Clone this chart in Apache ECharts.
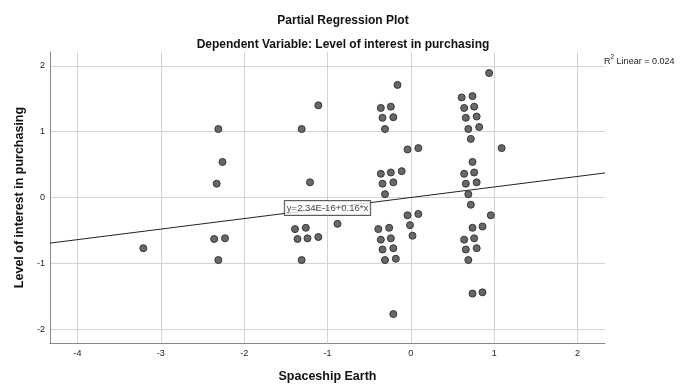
<!DOCTYPE html>
<html>
<head>
<meta charset="utf-8">
<script src="https://cdn.jsdelivr.net/npm/echarts@6/dist/echarts.min.js"></script>
<style>
html,body{margin:0;padding:0;background:#fff;}
#chart{width:686px;height:388px;}
</style>
</head>
<body>
<div id="chart"></div>
<script>
const titleText = 'Partial Regression Plot';
const subtitleText = 'Dependent Variable: Level of interest in purchasing';
const xAxisName = 'Spaceship Earth';
const yAxisName = 'Level of interest in purchasing';
const xValues = [
  -3.21, -2.31, -2.26, -2.33, -2.36, -2.23, -2.31,
  -1.11, -1.31, -1.21, -0.88, -1.39, -1.26, -1.36, -1.24, -1.11, -1.31,
  -0.16, -0.36, -0.24, -0.34, -0.21, -0.31, -0.04, 0.09, -0.36, -0.24, -0.11,
  -0.34, -0.21, -0.31, -0.04, 0.09, -0.01, 0.02, -0.39, -0.26, -0.36, -0.24,
  -0.34, -0.21, -0.31, -0.18, -0.21,
  0.94, 0.61, 0.74, 0.64, 0.76, 0.66, 0.79, 0.69, 0.82, 0.72, 1.09, 0.74,
  0.64, 0.76, 0.66, 0.79, 0.69, 0.72, 0.96, 0.74, 0.86, 0.64, 0.76, 0.66,
  0.79, 0.69, 0.74, 0.86
];
const yValues = [
  -0.77, 1.04, 0.54, 0.21, -0.63, -0.62, -0.95,
  1.40, 1.04, 0.23, -0.40, -0.48, -0.46, -0.63, -0.62, -0.60, -0.95,
  1.71, 1.36, 1.38, 1.21, 1.22, 1.04, 0.73, 0.75, 0.36, 0.38, 0.40,
  0.21, 0.23, 0.05, -0.27, -0.25, -0.42, -0.58, -0.48, -0.46, -0.64, -0.62,
  -0.79, -0.77, -0.95, -0.93, -1.77,
  1.89, 1.52, 1.54, 1.36, 1.38, 1.21, 1.23, 1.04, 1.07, 0.89, 0.75, 0.54,
  0.36, 0.38, 0.21, 0.23, 0.05, -0.11, -0.27, -0.46, -0.44, -0.64, -0.62, -0.79,
  -0.77, -0.95, -1.46, -1.44
];
const fitIntercept = 2.34e-16;
const fitSlope = 0.16;
const fitLabel = 'y=2.34E-16+0.16*x';
const fitLabelX = -1.0;
const r2Text = '0.024';
const xRange = [-4.33, 2.33];
const yRange = [-2.21, 2.21];

const points = xValues.map((x, i) => [x, yValues[i]]);
const fitLine = xRange.map(x => [x, fitIntercept + fitSlope * x]);
const fitLabelPoint = [[fitLabelX, fitIntercept + fitSlope * fitLabelX]];

const FONT = 'Liberation Sans, Arial, sans-serif';
const chart = echarts.init(document.getElementById('chart'));
const intFmt = v => (Math.abs(v - Math.round(v)) < 1e-6 ? String(Math.round(v)) : '');

chart.setOption({
  animation: false,
  backgroundColor: '#fff',
  title: [
    {text: titleText, left: 'center', top: 10, textStyle: {fontFamily: FONT, fontSize: 12, fontWeight: 'bold', color: '#111'}},
    {text: subtitleText, left: 'center', top: 34, textStyle: {fontFamily: FONT, fontSize: 12, fontWeight: 'bold', color: '#111'}}
  ],
  grid: {left: 50, right: 81, top: 52, bottom: 42, containLabel: false},
  xAxis: {
    type: 'value', min: xRange[0], max: xRange[1],
    name: xAxisName, nameLocation: 'middle', nameGap: 27,
    nameTextStyle: {fontFamily: FONT, fontSize: 12.5, fontWeight: 'bold', color: '#111'},
    axisLine: {show: true, onZero: false, lineStyle: {color: '#888', width: 1}},
    axisTick: {show: false},
    axisLabel: {fontFamily: FONT, fontSize: 9, color: '#222', margin: 6, formatter: intFmt},
    splitLine: {show: true, showMinLine: false, showMaxLine: false, lineStyle: {color: '#d4d4d4', width: 1}}
  },
  yAxis: {
    type: 'value', min: yRange[0], max: yRange[1],
    name: yAxisName, nameLocation: 'middle', nameGap: 22, nameRotate: 90,
    nameTextStyle: {fontFamily: FONT, fontSize: 12.5, fontWeight: 'bold', color: '#111'},
    axisLine: {show: true, onZero: false, lineStyle: {color: '#888', width: 1}},
    axisTick: {show: false},
    axisLabel: {fontFamily: FONT, fontSize: 9, color: '#222', margin: 5, formatter: intFmt},
    splitLine: {show: true, showMinLine: false, showMaxLine: false, lineStyle: {color: '#d4d4d4', width: 1}}
  },
  series: [
    {
      type: 'line', data: fitLine, showSymbol: false, symbol: 'none',
      lineStyle: {color: '#222', width: 1}, z: 2, silent: true
    },
    {
      type: 'scatter', data: points, symbol: 'circle', symbolSize: 7,
      itemStyle: {color: '#686868', borderColor: '#363636', borderWidth: 1, opacity: 1}, z: 3
    },
    {
      type: 'scatter', data: fitLabelPoint, symbolSize: 0, z: 5,
      label: {
        show: true, position: 'inside', formatter: fitLabel,
        fontFamily: FONT, fontSize: 9.5, color: '#111',
        backgroundColor: '#fff', borderColor: '#333', borderWidth: 1,
        padding: [2, 2, 2, 2]
      }
    }
  ],
  graphic: [
    {
      type: 'text', left: 604, top: 54,
      style: {
        text: '{r|R}{s|2}{r| Linear = ' + r2Text + '}',
        rich: {
          r: {fontFamily: FONT, fontSize: 9, fill: '#222', verticalAlign: 'bottom', lineHeight: 12},
          s: {fontFamily: FONT, fontSize: 6.5, fill: '#222', verticalAlign: 'top', lineHeight: 12, padding: [0, 0, 5, 0]}
        }
      }
    }
  ]
});
</script>
</body>
</html>
